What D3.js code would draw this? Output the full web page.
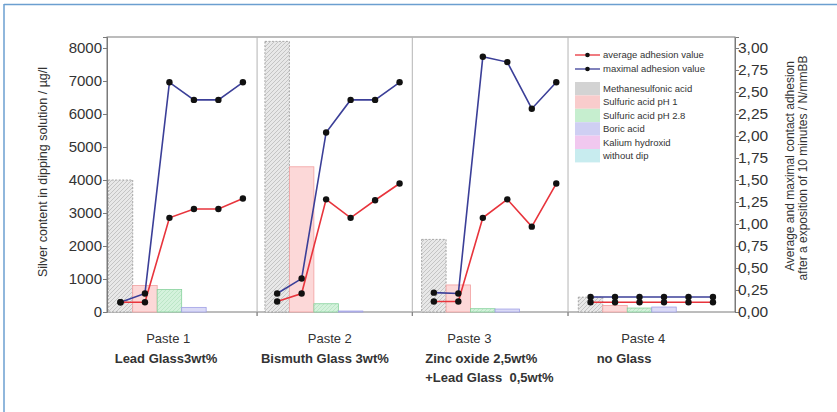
<!DOCTYPE html>
<html><head><meta charset="utf-8">
<script src="https://cdn.jsdelivr.net/npm/d3@7/dist/d3.min.js"></script>
<style>
html,body{margin:0;padding:0;background:#fff;}
svg{display:block;font-family:"Liberation Sans",Arial,sans-serif;}
text{white-space:pre;}
</style></head>
<body><svg id="c" width="837" height="412"></svg>
<script>
// ---- data ----
const pastes = ["Paste 1","Paste 2","Paste 3","Paste 4"];
const pasteSub = [["Lead Glass3wt%"],["Bismuth Glass 3wt%"],["Zinc oxide 2,5wt%","+Lead Glass  0,5wt%"],["no Glass"]];
const solutions = ["Methanesulfonic acid","Sulfuric acid pH 1","Sulfuric acid pH 2.8","Boric acid","Kalium hydroxid","without dip"];
// silver content µg/l, per paste, per solution
const methanesulfonic = [4000, 8200, 2200, 450];
const sulfuricPH1     = [800, 4400, 820, 200];
const sulfuricPH28    = [680, 250, 100, 120];
const boric           = [140, 30, 90, 150];
const kalium          = [0, 0, 0, 0];
const withoutDip      = [0, 0, 0, 0];
// adhesion N/mm², per paste, per solution
const averageAdhesion = [
  [0.11, 0.11, 1.07, 1.17, 1.17, 1.29],
  [0.12, 0.21, 1.28, 1.07, 1.27, 1.46],
  [0.12, 0.12, 1.07, 1.28, 0.97, 1.46],
  [0.11, 0.11, 0.11, 0.11, 0.11, 0.11]
];
const maximalAdhesion = [
  [0.11, 0.21, 2.61, 2.41, 2.41, 2.61],
  [0.21, 0.38, 2.04, 2.41, 2.41, 2.61],
  [0.22, 0.21, 2.90, 2.84, 2.31, 2.61],
  [0.17, 0.17, 0.17, 0.17, 0.17, 0.17]
];
const leftTicks = [0,1000,2000,3000,4000,5000,6000,7000,8000];
const rightTicks = [0,0.25,0.5,0.75,1,1.25,1.5,1.75,2,2.25,2.5,2.75,3];

// ---- layout ----
const svg = d3.select("#c");
const frame = {l:107, r:735, t:37, b:312};
const panelPitch = 6.4;
const x = d3.scaleLinear().domain([-0.05, 25.6]).range([frame.l, frame.r]);
const yL = d3.scaleLinear().domain([0, 8333]).range([frame.b, frame.t]);
const yR = d3.scaleLinear().domain([0, 3.125]).range([frame.b, frame.t]);
const dividerUnits = [6.08, 12.42, 18.78];
const labelUnits = [2.45, 9.05, 14.75, 21.85];

// outer page border (blue)
svg.append("line").attr("x1",4).attr("x2",837).attr("y1",4.5).attr("y2",4.5).attr("stroke","#6b9fd0").attr("stroke-width",1.5);
svg.append("line").attr("x1",4).attr("x2",4).attr("y1",4).attr("y2",412).attr("stroke","#6b9fd0").attr("stroke-width",1.5);

const defs = svg.append("defs");
function hatch(id, bg, fg){
  const p = defs.append("pattern").attr("id",id).attr("patternUnits","userSpaceOnUse")
    .attr("width",4).attr("height",4);
  p.append("rect").attr("width",4).attr("height",4).attr("fill",bg);
  p.append("path").attr("d","M-1,1 l2,-2 M0,4 l4,-4 M3,5 l2,-2").attr("stroke",fg).attr("stroke-width",0.55);
}
hatch("hGray","#e8e8e8","#a6a6a6");
hatch("hGreen","#d4f2dc","#a8dcb6");

const styles = [
  {fill:"url(#hGray)", stroke:"#959595", dash:"2,1.5", sw:"#d3d3d3"},
  {fill:"#fcd8d8", stroke:"#f2a0a0", dash:null, sw:"#f9cccc"},
  {fill:"url(#hGreen)", stroke:"#86d29c", dash:null, sw:"#c6eecf"},
  {fill:"#dadaf6", stroke:"#a0a0e6", dash:null, sw:"#cfcff3"},
  {fill:"#f4ccf4", stroke:"#e09ae0", dash:null, sw:"#f1c8ef"},
  {fill:"#ccf0f2", stroke:"#8fd6dc", dash:null, sw:"#c8ecef"}
];
const seriesVals = [methanesulfonic, sulfuricPH1, sulfuricPH28, boric, kalium, withoutDip];

// frame
svg.append("rect").attr("x",frame.l).attr("y",frame.t).attr("width",frame.r-frame.l).attr("height",frame.b-frame.t)
  .attr("fill","none").attr("stroke","#7a7a7a").attr("stroke-width",1);

// dividers
svg.selectAll("line.div").data(dividerUnits).join("line").attr("class","div")
  .attr("x1",d=>x(d)).attr("x2",d=>x(d)).attr("y1",frame.t).attr("y2",frame.b+4)
  .attr("stroke","#b4b4b4").attr("stroke-width",1);

function pi0(pi){return pi*panelPitch;}
// bars
const bars = [];
pastes.forEach((p,pi)=>{
  seriesVals.forEach((s,si)=>{
    bars.push({pi, si, v:s[pi]});
  });
});
svg.append("g").selectAll("rect").data(bars.filter(d=>d.v>0)).join("rect")
  .attr("x",d=>x(pi0(d.pi)+d.si))
  .attr("width",d=>x(1)-x(0))
  .attr("y",d=>yL(d.v))
  .attr("height",d=>yL(0)-yL(d.v))
  .attr("fill",d=>styles[d.si].fill)
  .attr("stroke",d=>styles[d.si].stroke)
  .attr("stroke-dasharray",d=>styles[d.si].dash)
  .attr("stroke-width",0.8);

// lines
const lineGen = d3.line().x(d=>x(d.u)).y(d=>yR(d.v));
function drawSeries(arr, color){
  arr.forEach((vals,pi)=>{
    const pts = vals.map((v,i)=>({u:pi0(pi)+i+0.5, v}));
    svg.append("path").datum(pts).attr("d",lineGen).attr("fill","none").attr("stroke",color).attr("stroke-width",1.6);
  });
}
drawSeries(maximalAdhesion, "#3b3f98");
drawSeries(averageAdhesion, "#e8343c");
function drawMarkers(arr){
  arr.forEach((vals,pi)=>{
    svg.append("g").selectAll("circle").data(vals.map((v,i)=>({u:pi0(pi)+i+0.5, v}))).join("circle")
      .attr("cx",d=>x(d.u)).attr("cy",d=>yR(d.v)).attr("r",3.2).attr("fill","#111");
  });
}
drawMarkers(maximalAdhesion);
drawMarkers(averageAdhesion);

// axes
const axL = svg.append("g").attr("transform",`translate(${frame.l},0)`)
  .call(d3.axisLeft(yL).tickValues(leftTicks).tickSize(4).tickFormat(d3.format("d")));
const axR = svg.append("g").attr("transform",`translate(${frame.r},0)`)
  .call(d3.axisRight(yR).tickValues(rightTicks).tickSize(4).tickFormat(d=>d3.format(".2f")(d).replace(".",",")));
[axL, axR].forEach(a=>{
  a.select(".domain").attr("stroke","#7a7a7a");
  a.selectAll(".tick line").attr("stroke","#7a7a7a");
  a.selectAll(".tick text").attr("fill","#333").attr("font-family","Liberation Sans, Arial, sans-serif");
});
axL.selectAll(".tick text").attr("x",-5).attr("font-size",15);
axR.selectAll(".tick text").attr("x",3).attr("font-size",15.5);

// bottom ticks at dividers
svg.selectAll("line.bt").data(dividerUnits).join("line").attr("class","bt")
  .attr("x1",d=>x(d)).attr("x2",d=>x(d)).attr("y1",frame.b).attr("y2",frame.b+4).attr("stroke","#7a7a7a");

// axis titles
svg.append("text").attr("transform","translate(47,172) rotate(-90)").attr("text-anchor","middle")
  .attr("font-size",12.5).attr("fill","#333").text("Silver content in dipping solution / µg/l");
svg.append("text").attr("transform","translate(794,166) rotate(-90)").attr("text-anchor","middle")
  .attr("font-size",12).attr("fill","#333").text("Average and maximal contact adhesion");
svg.append("text").attr("transform","translate(807,168) rotate(-90)").attr("text-anchor","middle")
  .attr("font-size",12).attr("fill","#333").text("after a exposition of 10 minutes / N/mmBB");

// paste labels
pastes.forEach((p,pi)=>{
  svg.append("text").attr("x",x(labelUnits[pi])).attr("y",343).attr("text-anchor","middle")
    .attr("font-size",13).attr("fill","#333").text(p);
});
const subAnchor = [{u:2.36,a:"middle"},{u:8.85,a:"middle"},{u:12.95,a:"start"},{u:19.95,a:"start"}];
pasteSub.forEach((lines,pi)=>{
  lines.forEach((t,li)=>{
    svg.append("text").attr("x",x(subAnchor[pi].u)).attr("y",363+li*19).attr("text-anchor",subAnchor[pi].a)
      .attr("font-size",13).attr("font-weight","bold").attr("fill","#333").text(t);
  });
});

// legend
const lg = svg.append("g");
const lx0 = 575, lx1 = 600;
[{name:"average adhesion value", c:"#e8343c", y:55},{name:"maximal adhesion value", c:"#3b3f98", y:69}].forEach(d=>{
  lg.append("line").attr("x1",lx0).attr("x2",lx1).attr("y1",d.y).attr("y2",d.y).attr("stroke",d.c).attr("stroke-width",1.3);
  lg.append("circle").attr("cx",(lx0+lx1)/2).attr("cy",d.y).attr("r",2.3).attr("fill","#111");
  lg.append("text").attr("x",603).attr("y",d.y+3).attr("font-size",9.5).attr("fill","#333").text(d.name);
});
solutions.forEach((s,i)=>{
  const yy = 82 + i*13.4;
  lg.append("rect").attr("x",lx0).attr("y",yy).attr("width",lx1-lx0).attr("height",13.4).attr("fill",styles[i].sw);
  lg.append("text").attr("x",603).attr("y",yy+10).attr("font-size",9.5).attr("fill","#333").text(s);
});
</script></body></html>
